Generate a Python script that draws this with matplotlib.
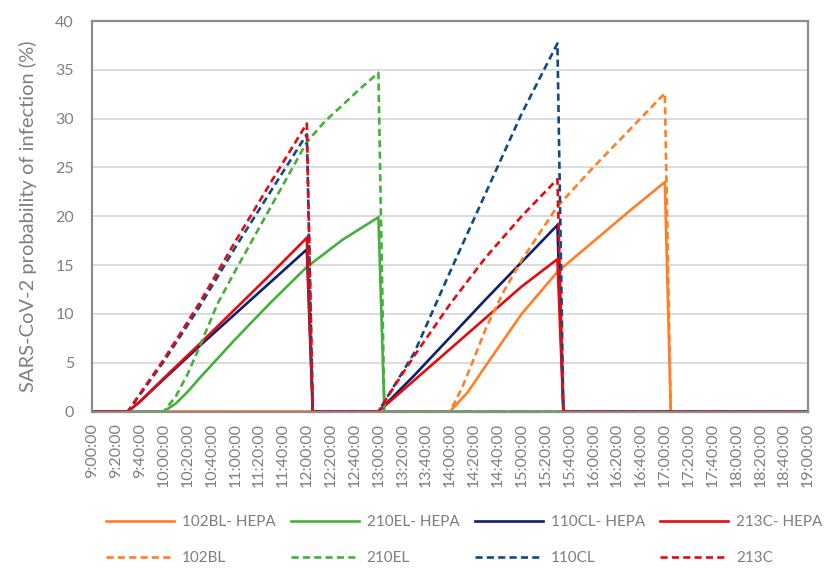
import matplotlib.pyplot as plt

plt.rcParams['font.family'] = ['Lato', 'DejaVu Sans']

# time axis: minutes after 9:00, labels every 20 min
tick_minutes = list(range(0, 601, 20))
tick_labels = [f"{9 + m // 60}:{m % 60:02d}:00" for m in tick_minutes]

# 102BL with HEPA
t_102bl_hepa = [0, 300, 315, 330, 360, 390, 420, 450, 480, 485, 600]
p_102bl_hepa = [0, 0, 2.0, 4.7, 10.0, 14.3, 17.4, 20.5, 23.5, 0, 0]

# 210EL with HEPA
t_210el_hepa = [0, 60, 70, 80, 90, 120, 150, 180, 210, 240, 245, 600]
p_210el_hepa = [0, 0, 0.8, 2.0, 3.4, 7.4, 11.2, 14.8, 17.6, 19.9, 0, 0]

# 110CL with HEPA
t_110cl_hepa = [0, 30, 40, 60, 90, 120, 150, 180, 185,
                240, 270, 300, 330, 360, 390, 395, 600]
p_110cl_hepa = [0, 0, 1.0, 3.3, 6.7, 10.0, 13.3, 16.6, 0,
                0, 3.7, 7.6, 11.5, 15.3, 19.1, 0, 0]

# 213C with HEPA
t_213c_hepa = [0, 30, 40, 60, 90, 120, 150, 180, 185,
               240, 270, 300, 330, 360, 390, 395, 600]
p_213c_hepa = [0, 0, 1.0, 3.4, 6.9, 10.5, 14.1, 17.8, 0,
               0, 3.2, 6.4, 9.6, 12.8, 15.6, 0, 0]

# 102BL
t_102bl = [0, 300, 310, 320, 330, 345, 360, 390, 420, 450, 480, 485, 600]
p_102bl = [0, 0, 2.4, 5.4, 8.5, 12.3, 15.5, 21.0, 25.0, 28.8, 32.6, 0, 0]

# 210EL
t_210el = [0, 60, 70, 80, 90, 105, 120, 150, 180, 195, 210, 225, 240, 245, 600]
p_210el = [0, 0, 1.5, 3.8, 6.6, 11.0, 14.4, 21.0, 27.6, 29.7, 31.4, 33.1, 34.7, 0, 0]

# 110CL
t_110cl = [0, 30, 40, 60, 90, 120, 150, 180, 185,
           240, 250, 270, 300, 330, 360, 390, 395, 600]
p_110cl = [0, 0, 1.7, 5.1, 10.7, 16.8, 22.6, 28.4, 0,
           0, 2.0, 6.0, 14.3, 22.4, 30.5, 37.7, 0, 0]

# 213C
t_213c = [0, 30, 40, 60, 90, 120, 150, 180, 185,
          240, 255, 270, 300, 330, 360, 390, 395, 600]
p_213c = [0, 0, 1.8, 5.3, 11.1, 17.4, 23.5, 29.5, 0,
          0, 2.9, 5.7, 11.0, 15.8, 20.0, 23.8, 0, 0]

orange = '#FF7F27'
green = '#45B03C'
navy = '#0E1F6B'
blue = '#0F4C85'
red = '#E30B13'
lw = 1.9
dashed = (0, (2.7, 1.6))

fig = plt.figure(figsize=(8.29, 5.68), dpi=100)
ax = fig.add_axes([0.111, 0.2755, 0.8637, 0.6875])

series = [
    (t_102bl_hepa, p_102bl_hepa, orange, '-', '102BL- HEPA'),
    (t_210el_hepa, p_210el_hepa, green, '-', '210EL- HEPA'),
    (t_110cl_hepa, p_110cl_hepa, navy, '-', '110CL- HEPA'),
    (t_213c_hepa, p_213c_hepa, red, '-', '213C- HEPA'),
    (t_102bl, p_102bl, orange, dashed, '102BL'),
    (t_210el, p_210el, green, dashed, '210EL'),
    (t_110cl, p_110cl, blue, dashed, '110CL'),
    (t_213c, p_213c, red, dashed, '213C'),
]
lines = []
for t, p, c, ls, lab in series:
    ln, = ax.plot(t, p, color=c, lw=lw, ls=ls, label=lab,
                  solid_joinstyle='miter')
    lines.append(ln)

ax.set_xlim(0, 600)
ax.set_ylim(0, 40)
ax.set_yticks(range(0, 41, 5))
ax.set_xticks(tick_minutes)
ax.set_xticklabels(tick_labels, rotation=90)
ax.grid(axis='y', color='#D9D9D9', lw=1.3)
ax.set_axisbelow(True)
ax.tick_params(length=0, labelsize=11.5, labelcolor='#7F7F7F')
ax.tick_params(axis='y', pad=13)
ax.tick_params(axis='x', pad=8)
for s in ax.spines.values():
    s.set_color('#8C8C8C')
    s.set_linewidth(1.6)
ax.set_ylabel('SARS-CoV-2 probability of infection (%)', fontsize=14.5,
              color='#7F7F7F', labelpad=13)

# legend rows: HEPA series first, plain series second
order = [0, 4, 1, 5, 2, 6, 3, 7]
fig.legend([lines[i] for i in order], [series[i][4] for i in order],
           ncol=4, loc='center', bbox_to_anchor=(0.56, 0.049),
           frameon=False, fontsize=11, labelcolor='#7F7F7F',
           handlelength=4.45, handletextpad=0.52, columnspacing=1.0,
           labelspacing=1.45)

fig.savefig('out.png', dpi=100)
